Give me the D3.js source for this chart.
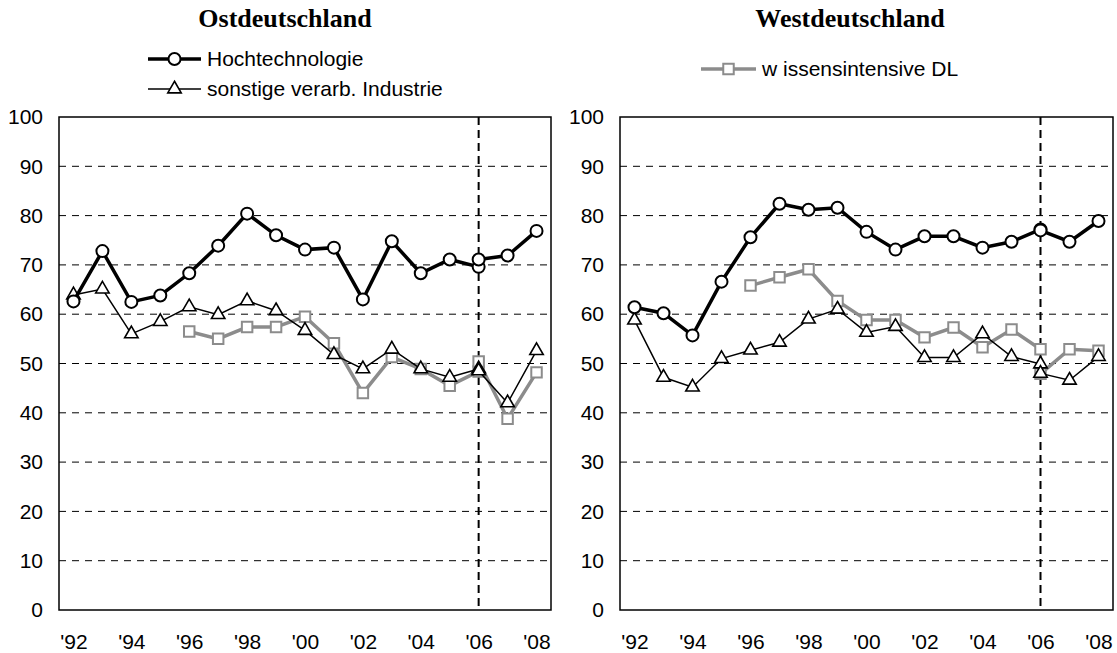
<!DOCTYPE html>
<head>
    <meta charset="utf-8">
    <style>
      body { margin: 0; background: #fff; }
      svg { display: block; }
      text { font-family: 'Liberation Sans', Arial, sans-serif; font-size: 21px; fill: #000; }
      .titel { font-family: 'Liberation Serif', 'Times New Roman', serif; font-weight: bold; font-size: 26px; }
      .grid line { stroke: #000; stroke-width: 1; stroke-dasharray: 7,6; }
      .bruch { stroke: #000; stroke-width: 2; stroke-dasharray: 8,5; }
      .rahmen { fill: none; stroke: #000; stroke-width: 1.5; }
      .hoch { fill: none; stroke: #000; stroke-width: 3.5; }
      .sonst { fill: none; stroke: #000; stroke-width: 1.5; }
      .wiss { fill: none; stroke: #8c8c8c; stroke-width: 3.5; }
  </style>
</head>
<body>
<svg id="chart" width="1117" height="653"></svg>
<script src="https://cdn.jsdelivr.net/npm/d3@7"></script>
<script>
  // Jahre (Kategorien) und Achsenbeschriftung
  var jahre = [1992, 1993, 1994, 1995, 1996, 1997, 1998, 1999, 2000, 2001, 2002, 2003, 2004, 2005, 2006, 2007, 2008];
  var jahreAlt = [1992, 1993, 1994, 1995, 1996, 1997, 1998, 1999, 2000, 2001, 2002, 2003, 2004, 2005, 2006];
  var jahreNeu = [2006, 2007, 2008];
  var tickJahre = [1992, 1994, 1996, 1998, 2000, 2002, 2004, 2006, 2008];
  var yTicks = [0, 10, 20, 30, 40, 50, 60, 70, 80, 90, 100];
  var bruchJahr = 2006;

  // Ostdeutschland: Reihe bis 2006 (alt) und ab 2006 (neu)
  var ostHochAlt = [62.6, 72.8, 62.5, 63.8, 68.3, 73.9, 80.4, 76.0, 73.1, 73.5, 63.0, 74.8, 68.3, 71.1, 69.6];
  var ostHochNeu = [71.1, 71.9, 76.9];
  var ostSonstAlt = [63.9, 65.1, 56.0, 58.5, 61.5, 59.9, 62.7, 60.7, 56.7, 51.8, 48.9, 52.9, 48.9, 47.2, 48.9];
  var ostSonstNeu = [48.5, 42.0, 52.6];
  var ostWissAlt = [null, null, null, null, 56.5, 55.0, 57.4, 57.4, 59.5, 54.1, 44.0, 51.3, 48.9, 45.5, 48.4];
  var ostWissNeu = [50.4, 38.8, 48.2];

  // Westdeutschland
  var westHochAlt = [61.4, 60.2, 55.7, 66.6, 75.6, 82.4, 81.2, 81.6, 76.7, 73.1, 75.8, 75.8, 73.5, 74.7, 77.2];
  var westHochNeu = [77.0, 74.7, 78.9];
  var westSonstAlt = [58.8, 47.2, 45.2, 51.0, 52.7, 54.3, 59.0, 61.0, 56.3, 57.5, 51.2, 51.2, 56.0, 51.4, 49.9];
  var westSonstNeu = [48.0, 46.6, 51.4];
  var westWissAlt = [null, null, null, null, 65.8, 67.5, 69.1, 62.7, 58.8, 58.8, 55.3, 57.3, 53.3, 56.9, 52.9];
  var westWissNeu = [47.9, 52.9, 52.6];

  var svg = d3.select("#chart");
  var top_ = 117, bottom = 610;

  var y = d3.scaleLinear().domain([0, 100]).range([bottom, top_]);

  function marker(g, cls, px, py) {
    if (cls == "hoch") {
      g.append("circle").attr("cx", px).attr("cy", py).attr("r", 6)
        .attr("fill", "#fff").attr("stroke", "#000").attr("stroke-width", 2);
    } else if (cls == "sonst") {
      g.append("path").attr("d", d3.symbol(d3.symbolTriangle, 78)())
        .attr("transform", "translate(" + px + "," + py + ")")
        .attr("fill", "#fff").attr("stroke", "#000").attr("stroke-width", 1.6);
    } else {
      g.append("path").attr("d", d3.symbol(d3.symbolSquare, 110)())
        .attr("transform", "translate(" + px + "," + py + ")")
        .attr("fill", "#fff").attr("stroke", "#8c8c8c").attr("stroke-width", 2);
    }
  }

  function panel(left, right, titel, titelX, reihen) {
    var x = d3.scalePoint().domain(jahre).range([left, right]).padding(0.5);
    var g = svg.append("g");

    g.append("text").attr("class", "titel").attr("x", titelX).attr("y", 27)
      .attr("text-anchor", "middle").text(titel);

    // Gitterlinien
    g.append("g").attr("class", "grid")
      .selectAll("line").data(yTicks.filter(function(d) { return d > 0 && d < 100; }))
      .enter().append("line")
      .attr("x1", left).attr("x2", right)
      .attr("y1", function(d) { return y(d); }).attr("y2", function(d) { return y(d); });

    // y-Achse
    var ay = g.append("g").attr("transform", "translate(" + (left - 16) + ",0)")
      .call(d3.axisLeft(y).tickValues(yTicks).tickSize(0).tickPadding(0));
    ay.select(".domain").remove();
    ay.selectAll("text").style("font-size", "21px").style("font-family", "'Liberation Sans', Arial, sans-serif");

    // x-Achse
    var ax = g.append("g").attr("transform", "translate(0," + (bottom + 24) + ")")
      .call(d3.axisBottom(x).tickValues(tickJahre).tickSize(0).tickPadding(0)
        .tickFormat(function(d) { return "'" + String(d).slice(2); }));
    ax.select(".domain").remove();
    ax.selectAll("text").style("font-size", "21px").style("font-family", "'Liberation Sans', Arial, sans-serif");

    // Strukturbruch 2006
    g.append("line").attr("class", "bruch")
      .attr("x1", x(bruchJahr)).attr("x2", x(bruchJahr))
      .attr("y1", top_).attr("y2", bottom);

    g.append("rect").attr("class", "rahmen")
      .attr("x", left).attr("y", top_).attr("width", right - left).attr("height", bottom - top_);

    var line = d3.line()
      .defined(function(d) { return d[1] != null; })
      .x(function(d) { return x(d[0]); })
      .y(function(d) { return y(d[1]); });

    reihen.forEach(function(r) {
      var alt = jahreAlt.map(function(j, i) { return [j, r.alt[i]]; });
      var neu = jahreNeu.map(function(j, i) { return [j, r.neu[i]]; });
      [alt, neu].forEach(function(seg) {
        g.append("path").datum(seg).attr("class", r.cls).attr("d", line);
      });
      alt.concat(neu).forEach(function(d) {
        if (d[1] != null) marker(g, r.cls, x(d[0]), y(d[1]));
      });
    });
  }

  panel(59, 551, "Ostdeutschland", 285, [
    { cls: "wiss", alt: ostWissAlt, neu: ostWissNeu },
    { cls: "sonst", alt: ostSonstAlt, neu: ostSonstNeu },
    { cls: "hoch", alt: ostHochAlt, neu: ostHochNeu }
  ]);
  panel(620, 1113, "Westdeutschland", 850, [
    { cls: "wiss", alt: westWissAlt, neu: westWissNeu },
    { cls: "sonst", alt: westSonstAlt, neu: westSonstNeu },
    { cls: "hoch", alt: westHochAlt, neu: westHochNeu }
  ]);

  // Legenden
  var legenden = [
    { cls: "hoch", text: "Hochtechnologie", x0: 148, x1: 201, tx: 207, ly: 59 },
    { cls: "sonst", text: "sonstige verarb. Industrie", x0: 148, x1: 201, tx: 207, ly: 89 },
    { cls: "wiss", text: "w issensintensive DL", x0: 701, x1: 756, tx: 762, ly: 69 }
  ];
  legenden.forEach(function(l) {
    var lg = svg.append("g");
    lg.append("line").attr("class", l.cls).attr("x1", l.x0).attr("x2", l.x1).attr("y1", l.ly).attr("y2", l.ly);
    marker(lg, l.cls, (l.x0 + l.x1) / 2, l.ly);
    lg.append("text").attr("x", l.tx).attr("y", l.ly).attr("dy", "0.35em").text(l.text);
  });
</script>
</body>
